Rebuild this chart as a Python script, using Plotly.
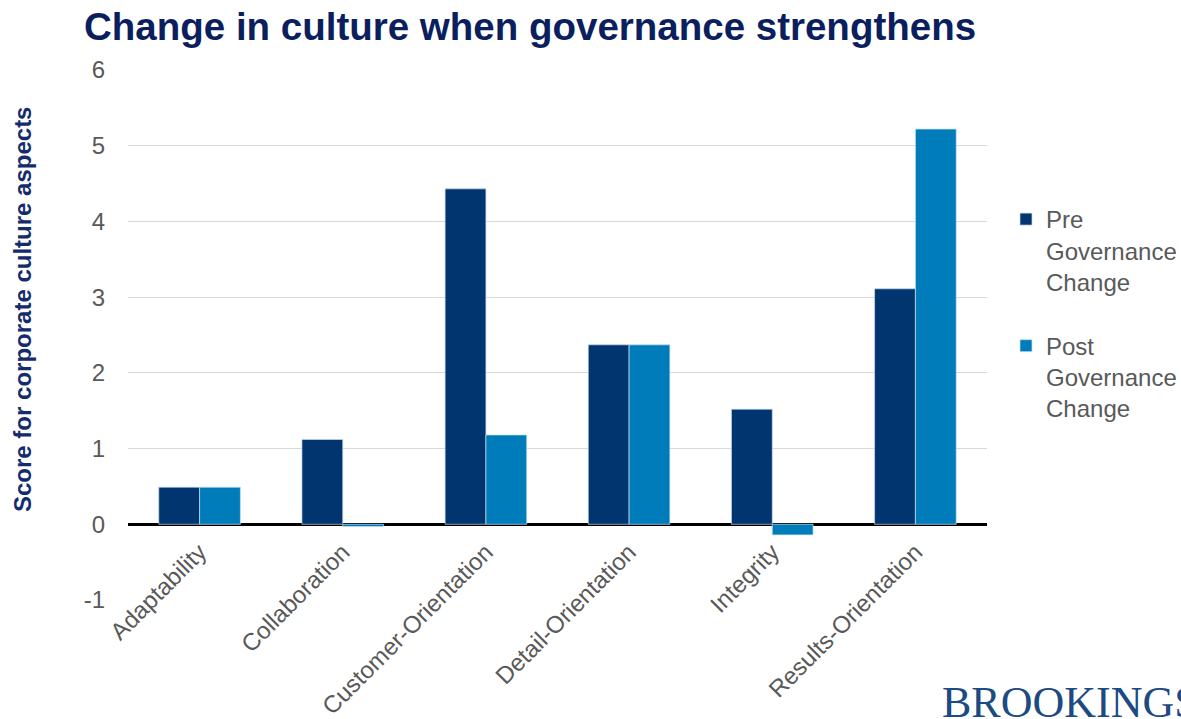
import plotly.graph_objects as go

categories = ["Adaptability", "Collaboration", "Customer-Orientation",
              "Detail-Orientation", "Integrity", "Results-Orientation"]
pre_values = [0.49, 1.12, 4.43, 2.37, 1.52, 3.11]
post_values = [0.49, -0.03, 1.18, 2.37, -0.14, 5.22]
y_ticks = [-1, 0, 1, 2, 3, 4, 5, 6]
y_tick_labels = ["-1", "0", "1", "2", "3", "4", "5", "6"]

W, H = 1181, 719
L, R, T, B = 128, 194, 70, 119
PH = H - T - B
PW = W - L - R

fig = go.Figure()
fig.add_trace(go.Bar(
    x=categories, y=pre_values, name="Pre<br>Governance<br>Change",
    marker=dict(color="#00356F", line=dict(color="rgba(200,215,235,0.7)", width=1)),
    legendgroup="a",
))
fig.add_trace(go.Bar(
    x=categories, y=post_values, name="Post<br>Governance<br>Change",
    marker=dict(color="#007CBA", line=dict(color="rgba(200,225,245,0.7)", width=1)),
    legendgroup="b",
))

tick_font = dict(family="Liberation Sans, Arial, sans-serif", size=24, color="#595959")

fig.update_layout(
    width=W, height=H,
    margin=dict(l=L, r=R, t=T, b=B, autoexpand=False),
    paper_bgcolor="white", plot_bgcolor="white",
    barmode="group", bargap=0.43, bargroupgap=0,
    title=dict(
        text="<b>Change in culture when governance strengthens</b>",
        font=dict(family="Liberation Sans, Arial, sans-serif", size=38.5, color="#0B1F5E"),
        xref="container", x=84 / W, xanchor="left",
        yref="container", y=1 - 27 / H, yanchor="middle",
    ),
    xaxis=dict(
        showgrid=False, showline=False, ticks="",
        tickangle=-45, tickfont=tick_font,
        anchor="free", position=1 / 7 - 8 / PH,
    ),
    yaxis=dict(
        range=[-1, 6], tickvals=y_ticks, ticktext=y_tick_labels, ticks="",
        showgrid=True, gridcolor="#D9D9D9", gridwidth=1.3,
        zeroline=True, zerolinecolor="#000000", zerolinewidth=2.5,
        showline=False, tickfont=tick_font, ticklabelstandoff=22,
    ),
    legend=dict(
        x=(1006 - L) / PW, xanchor="left",
        y=(H - B - 197) / PH, yanchor="top",
        font=dict(family="Liberation Sans, Arial, sans-serif", size=24, color="#595959"),
        tracegroupgap=30, itemwidth=30, valign="top",
        bgcolor="rgba(0,0,0,0)",
    ),
    showlegend=True,
)

fig.add_annotation(
    text="<b>Score for corporate culture aspects</b>",
    textangle=-90, xref="paper", yref="paper",
    x=(22 - L) / PW, y=(H - B - 310) / PH,
    xanchor="center", yanchor="middle", showarrow=False,
    font=dict(family="Liberation Sans, Arial, sans-serif", size=24, color="#142C6E"),
)

fig.add_annotation(
    text="BROOKINGS",
    xref="paper", yref="paper",
    x=(940 - L) / PW, y=(H - B - 729) / PH,
    xanchor="left", yanchor="bottom", showarrow=False,
    font=dict(family="Liberation Serif, Times New Roman, serif", size=44, color="#1C4A82"),
)

fig.write_html("out.html")
